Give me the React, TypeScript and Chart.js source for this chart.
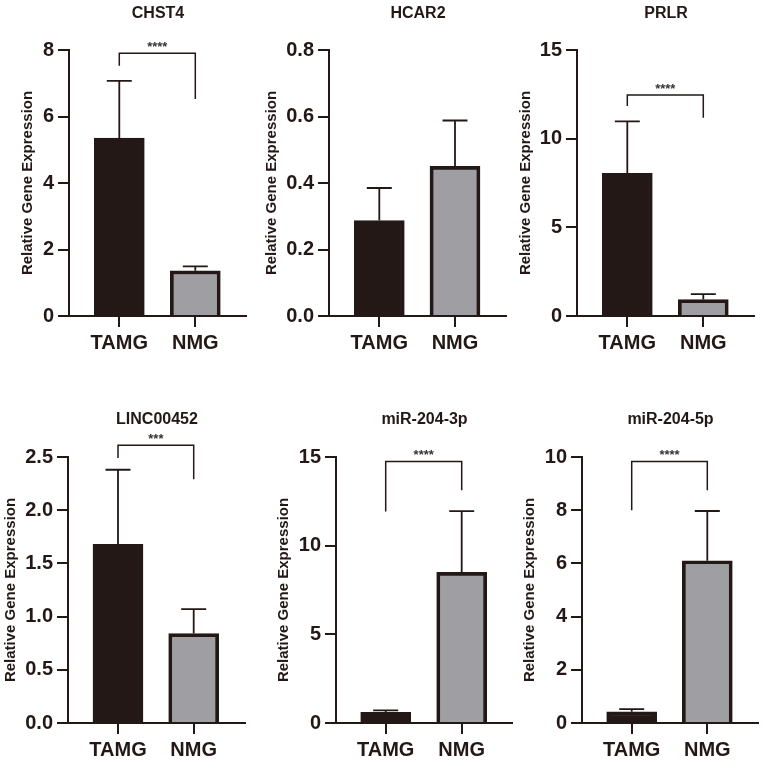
// App.tsx
import { FC, useEffect, useRef } from "react";
import { Chart, registerables } from "chart.js";

Chart.register(...registerables);

const DARK = "#231815";
const GRAY = "#9e9ea3";
const FONT = "'Liberation Sans', Arial, sans-serif";

const groups = ["TAMG", "NMG"];

const genes = ["CHST4", "HCAR2", "PRLR", "LINC00452", "miR-204-3p", "miR-204-5p"];

// bar heights: [TAMG, NMG]
const means = [
  [5.35, 1.36],
  [0.287, 0.45],
  [8.05, 0.93],
  [1.68, 0.84],
  [0.6, 8.5],
  [0.42, 6.1],
];

// top of the error bars
const errorTops = [
  [7.07, 1.49],
  [0.385, 0.588],
  [10.98, 1.23],
  [2.38, 1.07],
  [0.71, 11.95],
  [0.52, 7.97],
];

const yMaxes = [8, 0.8, 15, 2.5, 15, 10];
const ySteps = [2, 0.2, 5, 0.5, 5, 2];
const yDigits = [0, 1, 0, 1, 0, 0];

// significance brackets: [left end, top, right end], null = no bracket
const brackets = [
  [7.53, 7.9, 6.53],
  null,
  [11.84, 12.46, 11.18],
  [2.49, 2.61, 2.29],
  [11.93, 14.75, 13.12],
  [8.0, 9.83, 8.75],
];
const stars = ["****", "", "****", "***", "****", "****"];

// where each panel sits on the page
const panelBoxes = [
  { left: 0, top: 0, height: 370, axisX: 69, axisTop: 50, axisBottom: 316, axisRight: 247, c0: 119.3, c1: 195.3, titleY: 13.5, yTitleX: 28 },
  { left: 250, top: 0, height: 370, axisX: 329, axisTop: 50, axisBottom: 316, axisRight: 507, c0: 379.3, c1: 455, titleY: 13.5, yTitleX: 272 },
  { left: 510, top: 0, height: 370, axisX: 577, axisTop: 50, axisBottom: 316, axisRight: 755, c0: 627.3, c1: 703.3, titleY: 13.5, yTitleX: 525.7 },
  { left: 0, top: 400, height: 362, axisX: 68, axisTop: 457, axisBottom: 723, axisRight: 246, c0: 118, c1: 193.7, titleY: 420, yTitleX: 11 },
  { left: 265, top: 400, height: 362, axisX: 336, axisTop: 457, axisBottom: 723, axisRight: 513, c0: 385.7, c1: 461.7, titleY: 420, yTitleX: 283.7 },
  { left: 515, top: 400, height: 362, axisX: 582, axisTop: 457, axisBottom: 723, axisRight: 759, c0: 631.7, c1: 707.3, titleY: 420, yTitleX: 529.7 },
];

const Panel: FC<{ index: number }> = ({ index }) => {
  const canvasRef = useRef<HTMLCanvasElement | null>(null);
  const box = panelBoxes[index];
  const width = box.axisRight - box.left;

  useEffect(() => {
    if (!canvasRef.current) return;
    const spacing = box.c1 - box.c0;
    const titleSize = 16;
    const padTop = box.titleY - box.top - titleSize / 2;
    const yTitleSize = 15;

    // error bars, bracket and stars all go through the y scale
    const overlay = {
      id: "overlay",
      afterDatasetsDraw(chart: any) {
        const { ctx, scales } = chart;
        const xs = scales.x;
        const ys = scales.y;
        ctx.save();
        ctx.strokeStyle = DARK;
        ctx.lineCap = "butt";
        ctx.lineWidth = 1.8;
        errorTops[index].forEach((top, i) => {
          const x = xs.getPixelForValue(i);
          const yBar = ys.getPixelForValue(means[index][i]);
          const yTop = ys.getPixelForValue(top);
          ctx.beginPath();
          ctx.moveTo(x, yBar);
          ctx.lineTo(x, yTop);
          ctx.moveTo(x - 12.5, yTop);
          ctx.lineTo(x + 12.5, yTop);
          ctx.stroke();
        });
        const b = brackets[index];
        if (b) {
          const x0 = xs.getPixelForValue(0);
          const x1 = xs.getPixelForValue(1);
          const yTop = ys.getPixelForValue(b[1]);
          ctx.lineWidth = 1.5;
          ctx.beginPath();
          ctx.moveTo(x0, ys.getPixelForValue(b[0]));
          ctx.lineTo(x0, yTop);
          ctx.lineTo(x1, yTop);
          ctx.lineTo(x1, ys.getPixelForValue(b[2]));
          ctx.stroke();
          ctx.fillStyle = "#333333";
          ctx.font = `bold 13px ${FONT}`;
          ctx.textAlign = "center";
          ctx.textBaseline = "middle";
          ctx.fillText(stars[index], (x0 + x1) / 2, yTop - 6);
        }
        ctx.restore();
      },
    };

    const chart = new Chart(canvasRef.current, {
      type: "bar",
      data: {
        datasets: [
          {
            data: means[index].map((v, i) => ({ x: i, y: v })),
            backgroundColor: [DARK, GRAY],
            borderColor: DARK,
            borderWidth: 3.7,
            borderSkipped: "start",
            barThickness: 50,
            clip: false,
          },
        ],
      } as any,
      plugins: [overlay],
      options: {
        responsive: false,
        animation: false,
        plugins: {
          legend: { display: false },
          tooltip: { enabled: false },
          title: {
            display: true,
            fullSize: false,
            text: genes[index],
            color: DARK,
            font: { family: FONT, size: titleSize, weight: "bold", lineHeight: 1 },
            padding: { top: padTop, bottom: box.axisTop - box.top - padTop - titleSize },
          },
        },
        scales: {
          x: {
            type: "linear",
            offset: false,
            min: (box.axisX - box.c0) / spacing,
            max: (box.axisRight - box.c0) / spacing,
            afterBuildTicks: (axis: any) => {
              axis.ticks = groups.map((_, i) => ({ value: i }));
            },
            afterFit: (axis: any) => {
              axis.height = box.top + box.height - box.axisBottom;
            },
            grid: {
              offset: false,
              drawOnChartArea: false,
              color: DARK,
              lineWidth: 2,
              tickLength: 11,
            },
            border: { display: true, color: DARK, width: 2 },
            ticks: {
              color: DARK,
              autoSkip: false,
              maxRotation: 0,
              padding: 4,
              font: { family: FONT, size: 20, weight: "bold" },
              callback: (v: any) => groups[v as number],
            },
          },
          y: {
            min: 0,
            max: yMaxes[index],
            afterFit: (axis: any) => {
              axis.width = box.axisX - box.left;
            },
            grid: {
              drawOnChartArea: false,
              color: DARK,
              lineWidth: 2,
              tickLength: 11,
            },
            border: { display: true, color: DARK, width: 2 },
            ticks: {
              color: DARK,
              stepSize: ySteps[index],
              padding: 4,
              font: { family: FONT, size: 20, weight: "bold" },
              callback: (v: any) => Number(v).toFixed(yDigits[index]),
            },
            title: {
              display: true,
              text: "Relative Gene Expression",
              color: DARK,
              font: { family: FONT, size: yTitleSize, weight: "bold", lineHeight: 1 },
              padding: { top: box.yTitleX - box.left - yTitleSize / 2, bottom: 0 },
            },
          },
        },
      },
    } as any);

    return () => {
      chart.destroy();
    };
  }, [index]);

  return (
    <canvas
      ref={canvasRef}
      width={width}
      height={box.height}
      style={{ position: "absolute", left: box.left, top: box.top, width, height: box.height }}
    />
  );
};

export default function App() {
  return (
    <div style={{ position: "absolute", left: 0, top: 0, width: 765, height: 762, background: "#fff", overflow: "hidden" }}>
      {genes.map((_, i) => (
        <Panel key={genes[i]} index={i} />
      ))}
    </div>
  );
}
